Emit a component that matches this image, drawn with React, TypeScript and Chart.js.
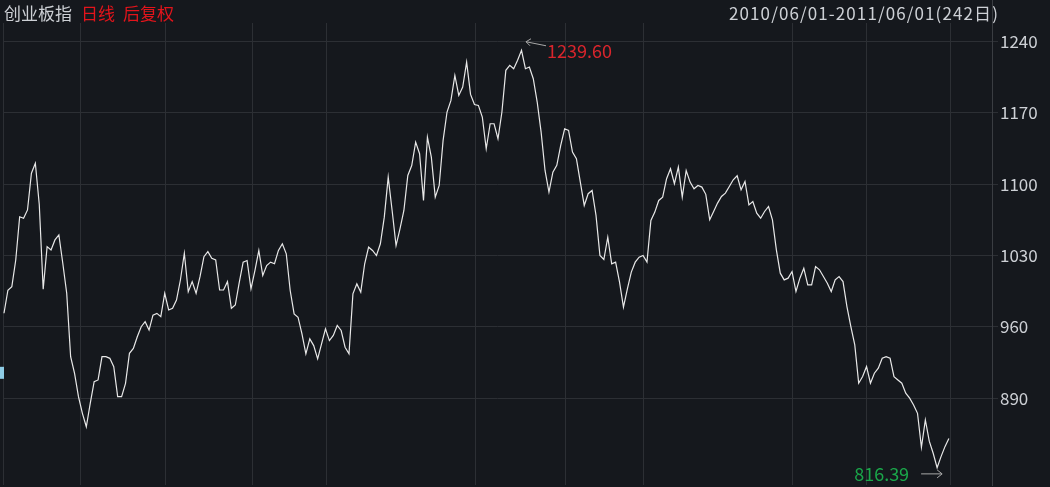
import React, { useEffect, useRef } from "react";
import { Chart, registerables } from "chart.js";

Chart.register(...registerables);

// ---- data ----
const indexName = "创业板指";
const periodTag = "日线";
const adjustTag = "后复权";
const rangeLabel = "2010/06/01-2011/06/01(242日)";

const closes: number[] = [
  973.4, 996.0, 999.5, 1025.6, 1068.0, 1066.5, 1074.7, 1110.7, 1120.5, 1080.0,
  997.0, 1038.7, 1035.5, 1045.3, 1050.2, 1022.4, 993.0, 930.8, 914.5, 891.6,
  875.3, 862.1, 885.1, 906.3, 908.0, 930.8, 930.8, 929.2, 921.0, 891.6,
  891.6, 904.7, 934.1, 939.0, 950.4, 960.2, 965.1, 956.9, 971.6, 973.3,
  970.0, 993.0, 976.6, 978.3, 986.4, 1006.0, 1032.2, 994.6, 1004.4, 993.0,
  1009.3, 1028.9, 1033.8, 1027.3, 1025.7, 996.2, 996.2, 1004.4, 978.3, 981.5,
  1003.5, 1023.5, 1025.1, 997.3, 1015.3, 1035.0, 1010.4, 1020.2, 1023.5, 1021.9,
  1035.0, 1041.5, 1031.7, 995.7, 972.8, 969.5, 953.2, 933.6, 948.3, 941.7,
  928.7, 943.4, 958.1, 946.6, 951.6, 961.4, 956.5, 940.1, 933.6, 992.4,
  1002.2, 994.1, 1021.9, 1038.2, 1035.0, 1030.0, 1041.5, 1067.6, 1106.9, 1074.2,
  1039.8, 1056.2, 1074.2, 1108.5, 1118.3, 1141.2, 1129.8, 1084.0, 1146.1, 1126.5,
  1087.3, 1098.7, 1142.9, 1170.7, 1182.1, 1206.6, 1187.0, 1195.2, 1219.7, 1188.0,
  1178.0, 1177.2, 1165.8, 1134.7, 1159.2, 1159.2, 1144.5, 1170.7, 1211.6, 1216.5,
  1213.2, 1221.4, 1231.2, 1213.2, 1214.8, 1203.4, 1180.5, 1151.0, 1113.4, 1092.2,
  1111.8, 1118.4, 1138.0, 1154.3, 1152.7, 1131.4, 1124.9, 1102.0, 1079.1, 1090.6,
  1093.8, 1069.3, 1030.1, 1026.1, 1048.0, 1021.9, 1023.5, 1003.9, 979.4, 997.4,
  1013.7, 1023.5, 1028.4, 1030.1, 1023.5, 1064.4, 1072.6, 1084.0, 1087.3, 1105.3,
  1115.1, 1100.4, 1116.7, 1087.3, 1113.4, 1102.0, 1095.5, 1098.7, 1097.1, 1090.0,
  1065.0, 1073.2, 1081.4, 1087.9, 1091.2, 1097.7, 1104.3, 1108.2, 1094.4, 1102.6,
  1079.7, 1083.0, 1071.5, 1066.6, 1073.2, 1078.1, 1065.0, 1035.6, 1012.7, 1006.1,
  1007.8, 1014.3, 994.7, 1007.8, 1017.6, 1001.2, 1001.2, 1019.2, 1016.0, 1009.4,
  1002.9, 994.7, 1006.1, 1009.4, 1004.5, 980.0, 960.4, 942.4, 904.8, 911.3,
  921.1, 904.8, 914.6, 919.5, 929.3, 930.9, 929.3, 911.3, 908.0, 904.8,
  895.0, 890.1, 883.5, 875.3, 842.0, 868.8, 848.0, 836.1, 822.0, 832.8,
  842.6, 850.5,
];

const periodHigh = 1239.6;
const periodLow = 816.39;
const highIndex = 132;
const lowIndex = 238;

// day-index positions of month separators
const monthBreaks: number[] = [19.4, 41.1, 63.3, 82.2, 120.2, 143.2, 163.1, 201.2, 220.1, 241.3];
const yTickValues: number[] = [890, 960, 1030, 1100, 1170, 1240];
const markerValue = 915;

// ---- styles ----
const BG = "#15181d";
const GRID = "#2c2f34";
const AXIS = "#3a3d42";
const LINE = "#e8e8e8";
const TEXT = "#cdd0d5";
const RED = "#e3141b";
const MAXRED = "#d9252c";
const GREEN = "#1aa64a";
const FONT = '"Noto Sans CJK SC", "Noto Sans", sans-serif';

const decor = {
  id: "decor",
  beforeDraw(chart: any) {
    const { ctx, width, height } = chart;
    ctx.save();
    ctx.fillStyle = BG;
    ctx.fillRect(0, 0, width, height);
    ctx.restore();
  },
  afterDraw(chart: any) {
    const { ctx, chartArea } = chart;
    const xs = chart.scales.x;
    const ys = chart.scales.y;
    ctx.save();
    // right axis line extension to top
    ctx.strokeStyle = AXIS;
    ctx.lineWidth = 1;
    ctx.beginPath();
    ctx.moveTo(Math.round(chartArea.right) + 0.5, 0);
    ctx.lineTo(Math.round(chartArea.right) + 0.5, chartArea.top);
    ctx.stroke();

    // titles
    ctx.font = `17px ${FONT}`;
    ctx.textBaseline = "middle";
    ctx.textAlign = "left";
    ctx.fillStyle = TEXT;
    let tx = 4;
    ctx.fillText(indexName, tx, 14);
    tx += ctx.measureText(indexName).width + 9;
    ctx.fillStyle = RED;
    ctx.fillText(periodTag, tx, 14);
    tx += ctx.measureText(periodTag).width + 8;
    ctx.fillText(adjustTag, tx, 14);

    ctx.fillStyle = TEXT;
    ctx.textAlign = "right";
    try {
      (ctx as any).letterSpacing = "1.1px";
    } catch (e) {}
    ctx.fillText(rangeLabel, 999, 14);
    try {
      (ctx as any).letterSpacing = "0px";
    } catch (e) {}

    // max annotation
    const hx = xs.getPixelForValue(highIndex) + 4.5;
    const hy = ys.getPixelForValue(periodHigh);
    ctx.strokeStyle = "#a8a8a8";
    ctx.lineWidth = 1;
    ctx.beginPath();
    ctx.moveTo(hx, hy);
    ctx.lineTo(hx + 20, hy + 4);
    ctx.moveTo(hx + 5, hy - 3);
    ctx.lineTo(hx, hy);
    ctx.lineTo(hx + 4, hy + 4);
    ctx.stroke();
    ctx.font = `18px ${FONT}`;
    ctx.textAlign = "left";
    ctx.fillStyle = MAXRED;
    ctx.fillText(periodHigh.toFixed(2), hx + 21, hy + 9);

    // min annotation
    const lx = xs.getPixelForValue(lowIndex) + 5;
    const ly = ys.getPixelForValue(periodLow);
    ctx.beginPath();
    ctx.moveTo(lx - 21, ly + 0.5);
    ctx.lineTo(lx, ly + 0.5);
    ctx.moveTo(lx - 5, ly - 3.5);
    ctx.lineTo(lx, ly + 0.5);
    ctx.lineTo(lx - 5, ly + 4.5);
    ctx.stroke();
    ctx.textAlign = "right";
    ctx.fillStyle = GREEN;
    ctx.fillText(periodLow.toFixed(2), lx - 33, ly + 1);

    // small left marker
    const my = ys.getPixelForValue(markerValue);
    ctx.fillStyle = "#8ecde6";
    ctx.fillRect(0, my - 6, 4, 12);
    ctx.restore();
  },
};

export default function App() {
  const ref = useRef<HTMLCanvasElement | null>(null);

  useEffect(() => {
    document.body.style.margin = "0";
    document.body.style.background = BG;
    const canvas = ref.current;
    if (!canvas) return;
    const points = closes.map((v, i) => ({ x: i, y: v }));
    const chart = new Chart(canvas, {
      type: "line",
      data: {
        datasets: [
          {
            data: points,
            borderColor: LINE,
            borderWidth: 1.2,
            pointRadius: 0,
            tension: 0,
            fill: false,
          },
        ],
      },
      options: {
        animation: false,
        responsive: false,
        events: [],
        layout: { padding: { top: 23, bottom: 2, left: 3, right: 0 } },
        plugins: {
          legend: { display: false },
          tooltip: { enabled: false },
          title: { display: false },
        },
        scales: {
          x: {
            type: "linear",
            min: -0.25,
            max: 252,
            afterBuildTicks: (s: any) => {
              s.ticks = [-0.25, ...monthBreaks].map((v) => ({ value: v }));
            },
            afterFit: (s: any) => {
              s.height = 0;
            },
            ticks: { display: false },
            grid: { color: GRID, drawTicks: false, lineWidth: 1 },
            border: { display: false },
          },
          y: {
            type: "linear",
            position: "right",
            min: 805,
            max: 1258,
            afterBuildTicks: (s: any) => {
              s.ticks = yTickValues.map((v) => ({ value: v }));
            },
            afterFit: (s: any) => {
              s.width = 58;
              s.paddingTop = 0;
              s.paddingBottom = 0;
            },
            ticks: {
              color: TEXT,
              font: { family: FONT, size: 17 },
              padding: 2,
              autoSkip: false,
              callback: (v: any) => String(v),
            },
            grid: { color: GRID, tickLength: 6, drawTicks: true, lineWidth: 1 },
            border: { display: true, color: AXIS },
          },
        },
      },
      plugins: [decor],
    });
    return () => chart.destroy();
  }, []);

  return (
    <div style={{ width: 1050, height: 487, background: BG }}>
      <canvas ref={ref} width={1050} height={487} style={{ display: "block", width: 1050, height: 487 }} />
    </div>
  );
}
